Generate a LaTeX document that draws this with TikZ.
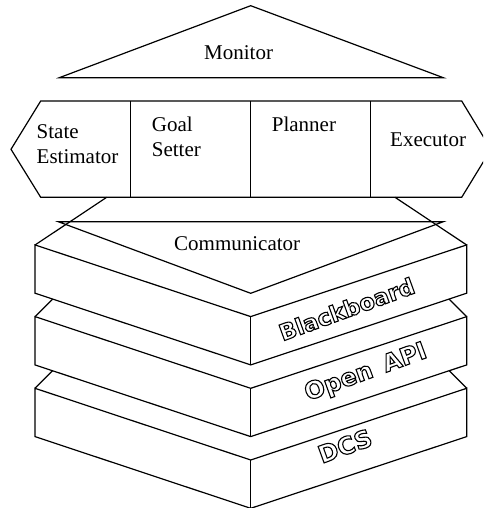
\documentclass[tikz,border=0pt]{standalone}
\usepackage{fontspec}
\setmainfont{Liberation Serif}
\newfontfamily\slabfont{DejaVu Sans}
\usetikzlibrary{positioning}
% hollow letters: stroke the glyph outlines only
\newcommand\hollow[1]{\special{pdf:literal direct 1 Tr 1.1 w}#1\special{pdf:literal direct 0 Tr}}
\tikzset{
  edge/.style={draw=black,line width=1.2pt,line join=miter},
  face/.style={edge,fill=white},
  lbl/.style={font=\fontsize{21}{25}\selectfont,inner sep=0pt,align=left,anchor=base west},
  slabtxt/.style={font=\slabfont\bfseries\fontsize{#1}{30}\selectfont,inner sep=0pt,rotate=20},
  slabtxt/.default=24,
}
\begin{document}
\begin{tikzpicture}[x=1pt,y=-1pt]
  \clip (0,0) rectangle (483,508);
  % monitor roof
  \draw[edge] (59.3,77.7) -- (250.7,5.7) -- (443.3,77.7) -- cycle;
  \node[lbl] (monitor) at (204,59.3) {Monitor};
  % function band
  \draw[edge] (40.7,101) -- (461.7,101) -- (491,149.3) -- (461.7,197.3)
    -- (40.7,197.3) -- (11,149.3) -- cycle;
  \foreach \x in {130.7,250.7,370.7} \draw[edge] (\x,101) -- (\x,197.3);
  \node[lbl] (est) at (36.5,163.3) {State\\Estimator};
  \node[lbl] (goal) at (151.7,156.7) {Goal\\Setter};
  \node[lbl] (plan) at (271.7,131.7) {Planner};
  \node[lbl] (exec) at (390,146.7) {Executor};
  % layer sides (hidden behind the layer above)
  \foreach \y in {316.7,388.3} \draw[edge] (35,\y) -- ++(22,-22) (466.7,\y) -- ++(-22,-22);
  % layers, bottom first
  \foreach \t/\p/\s [count=\i from 0] in {DCS/{345,446}/24,Open\hspace{0.5em}API/{366,373}/24,Blackboard/{346.7,309}/22.5}{
    \pgfmathsetmacro\yy{388.3-71.7*\i}
    \draw[face] (35,\yy) -- (250.7,\yy+71.7) -- (466.7,\yy) -- (466.7,\yy+48.3)
      -- (250.7,\yy+120) -- (35,\yy+48.3) -- cycle;
    \draw[edge] (250.7,\yy+71.7) -- (250.7,\yy+120);
    \node[slabtxt=\s] (layer\i) at (\p) {\hollow{\t}};
  }
  \draw[edge] (106.7,197.3) -- (35,245) (395,197.3) -- (466.7,245);
  % communicator
  \draw[edge] (58.3,221.7) -- (443.3,221.7) -- (250.7,293.3) -- cycle;
  \node[lbl] (comm) at (174,250.7) {Communicator};
\end{tikzpicture}
\end{document}
